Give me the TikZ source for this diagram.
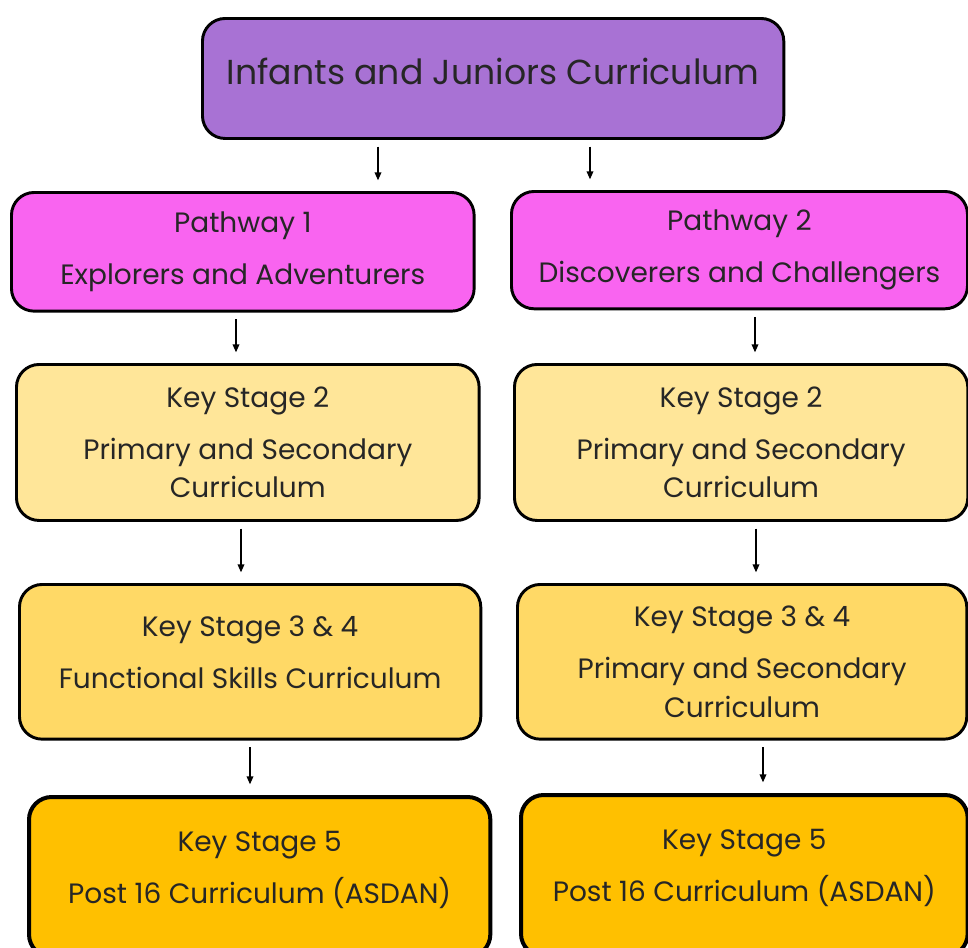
\documentclass[tikz,border=0pt]{standalone}
\usepackage{fontspec}
\setmainfont{Poppins}
\usetikzlibrary{arrows.meta}
\definecolor{juniorpurple}{HTML}{A872D4}
\definecolor{pathpink}{HTML}{F964F0}
\definecolor{kstwo}{HTML}{FFE699}
\definecolor{ksthree}{HTML}{FFD966}
\definecolor{ksfive}{HTML}{FFC000}

\begin{document}
\begin{tikzpicture}[x=0.75pt, y=-0.75pt,
    box/.style={draw=black, line width=2.2pt, rounded corners=17pt,
        anchor=north west, align=center, inner sep=0pt, text=black!85,
        font=\fontsize{21}{29}\selectfont},
    arr/.style={-{Triangle[length=6pt,width=5pt]}, line width=1pt,
        shorten <=5pt, shorten >=8pt}]
    \useasboundingbox (0,0) rectangle (968,947);

    \node[box, fill=juniorpurple, minimum width=436pt, minimum height=90pt,
        font=\fontsize{26}{32}\selectfont] (top) at (201,17)
        {Infants and Juniors Curriculum\\[-21pt]};

    \node[box, fill=pathpink, minimum width=347pt, minimum height=89pt]
        (path1) at (10,191) {Pathway 1\\[10pt]Explorers and Adventurers};
    \node[box, fill=pathpink, minimum width=342pt, minimum height=88pt]
        (path2) at (510,190) {Pathway 2\\[10pt]Discoverers and Challengers};

    \node[box, fill=kstwo, minimum width=347pt, minimum height=117pt]
        (ks2a) at (15,363) {Key Stage 2\\[10pt]Primary and Secondary\\Curriculum};
    \node[box, fill=kstwo, minimum width=340pt, minimum height=117pt]
        (ks2b) at (513,363) {Key Stage 2\\[10pt]Primary and Secondary\\Curriculum};

    \node[box, fill=ksthree, minimum width=346pt, minimum height=116pt]
        (ks3a) at (18,583) {Key Stage 3 \& 4\\[10pt]Functional Skills Curriculum\\[-15pt]};
    \node[box, fill=ksthree, minimum width=337pt, minimum height=116pt]
        (ks3b) at (516,583) {Key Stage 3 \& 4\\[10pt]Primary and Secondary\\Curriculum};

    \node[box, fill=ksfive, line width=3pt, minimum width=346pt, minimum height=120pt]
        (ks5a) at (27,795) {Key Stage 5\\[10pt]Post 16 Curriculum (ASDAN)\\[-14pt]};
    \node[box, fill=ksfive, line width=3pt, minimum width=335pt, minimum height=121pt]
        (ks5b) at (519,793) {Key Stage 5\\[10pt]Post 16 Curriculum (ASDAN)\\[-14pt]};

    \coordinate (a1) at (378,0);
    \coordinate (a2) at (590,0);
    \coordinate (b1) at (236,0);
    \coordinate (b2) at (755,0);
    \coordinate (c1) at (241,0);
    \coordinate (c2) at (756,0);
    \coordinate (d1) at (250,0);
    \coordinate (d2) at (763,0);

    \draw[arr] (top.south -| a1) -- (path1.north -| a1);
    \draw[arr] (top.south -| a2) -- (path2.north -| a2);
    \draw[arr] (path1.south -| b1) -- (ks2a.north -| b1);
    \draw[arr] (path2.south -| b2) -- (ks2b.north -| b2);
    \draw[arr] (ks2a.south -| c1) -- (ks3a.north -| c1);
    \draw[arr] (ks2b.south -| c2) -- (ks3b.north -| c2);
    \draw[arr] (ks3a.south -| d1) -- (ks5a.north -| d1);
    \draw[arr] (ks3b.south -| d2) -- (ks5b.north -| d2);
\end{tikzpicture}
\end{document}
